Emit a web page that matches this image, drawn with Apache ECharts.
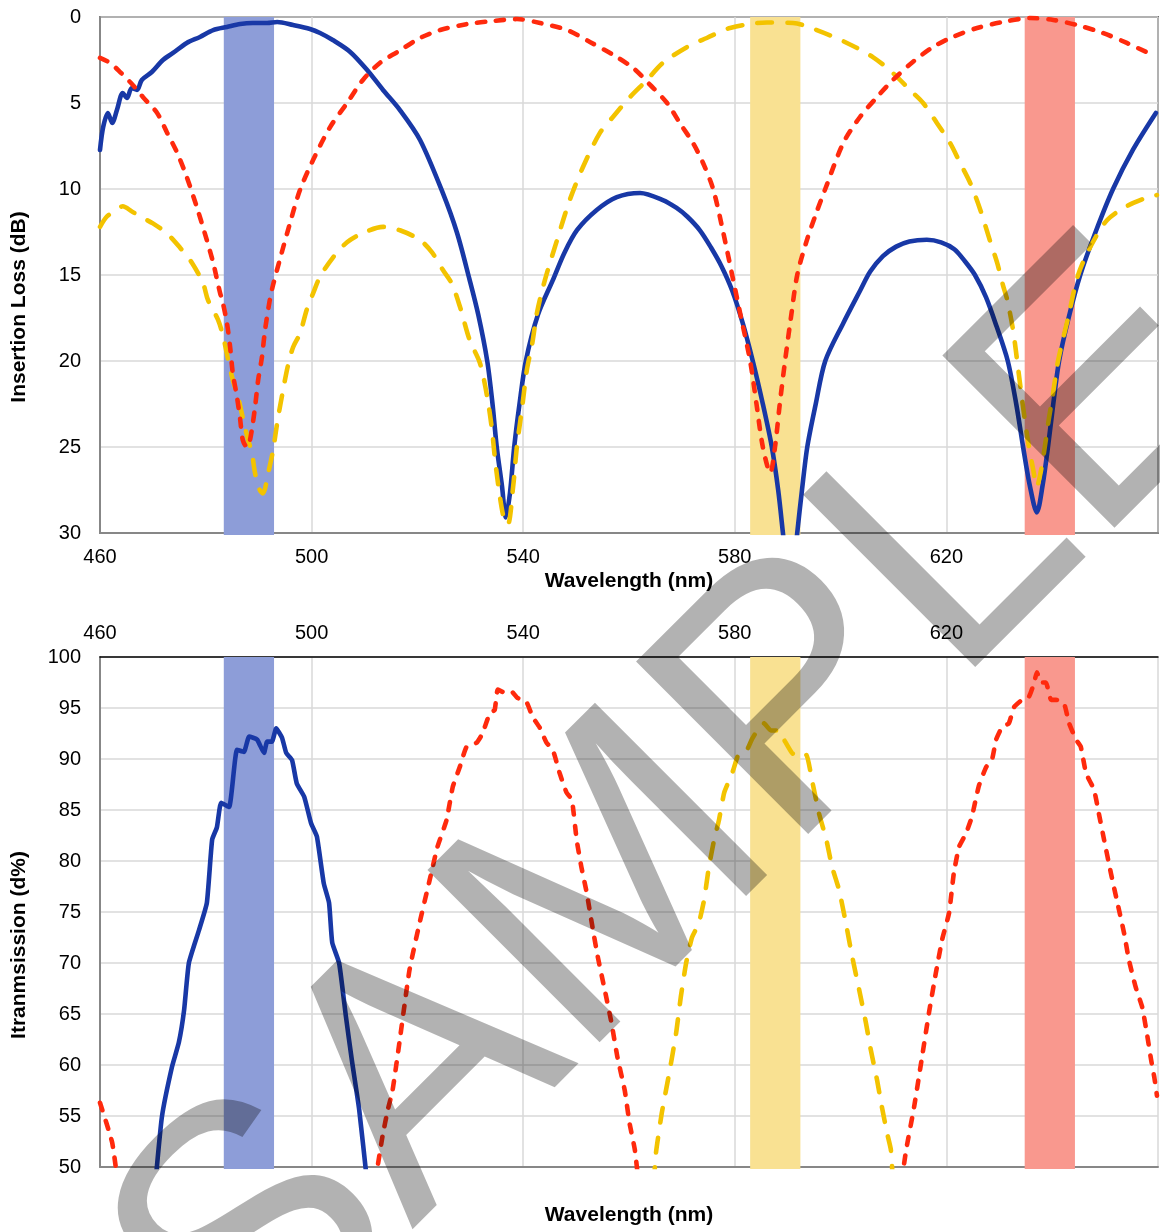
<!DOCTYPE html>
<html><head><meta charset="utf-8">
<script src="https://cdn.jsdelivr.net/npm/echarts@6/dist/echarts.min.js"></script>
<style>html,body{margin:0;padding:0;background:#fff}#c{width:1160px;height:1232px}</style>
</head><body><div id="c"></div>
<script>
// ---------- DATA ----------
const xMin = 460, xMax = 660, xStep = 40;
const topYMin = 0, topYMax = 30, topYStep = 5;
const botYMin = 50, botYMax = 100, botYStep = 5;

// shaded passbands [start nm, end nm]
const bandStart = [483.4, 582.9, 634.8];
const bandEnd   = [492.9, 592.4, 644.3];

// Top panel: insertion loss (dB)
const topBlueX = [460.0,460.6,461.5,462.3,463.2,464.3,465.1,466.0,467.0,467.9,469.8,471.9,473.8,476.4,478.9,481.4,484.0,486.5,488.9,491.6,493.5,496.5,499.7,501.6,504.0,507.3,510.5,513.5,516.7,520.5,524.8,527.5,529.8,531.5,533.2,534.2,535.0,536.0,536.7,537.5,538.3,539.3,540.5,542.8,545.6,547.8,550.2,553.9,557.7,562.1,566.4,569.0,571.0,573.4,575.5,577.5,579.5,581.5,583.4,585.3,587.0,588.2,589.1,590.5,591.8,592.7,593.7,595.3,597.1,600.5,603.7,605.6,608.0,610.5,613.0,616.3,619.0,621.5,623.5,625.4,627.5,629.5,631.6,633.2,634.5,635.8,637.1,638.2,639.2,640.2,641.3,643.1,645.3,648.2,651.5,655.3,659.6];
const topBlueY = [7.73,6.40,5.58,6.16,5.41,4.42,4.71,4.13,4.24,3.66,3.20,2.50,2.09,1.51,1.16,0.76,0.58,0.41,0.35,0.35,0.29,0.47,0.70,0.93,1.34,2.03,3.08,4.24,5.41,7.15,10.23,12.56,15.2,17.3,20.0,22.5,25.0,27.3,29.1,27.67,25.0,22.5,20.0,17.3,15.3,13.7,12.38,11.22,10.47,10.23,10.64,11.1,11.6,12.4,13.4,14.5,15.9,17.8,20.0,22.5,25.0,27.5,30.0,34.0,30.0,27.5,25.0,22.5,20.0,17.8,15.9,14.8,13.9,13.35,13.05,12.95,13.1,13.5,14.2,15.0,16.3,18.0,20.0,22.5,25.0,27.3,28.8,27.2,25.0,22.5,20.0,17.5,15.0,12.5,10.0,7.7,5.58];

const topRedX = [460.0,461.9,463.8,466.2,468.1,470.8,472.7,474.6,476.4,478.3,479.8,481.4,482.7,483.1,484.0,484.6,485.1,485.9,486.5,487.0,487.8,488.2,488.7,489.3,489.9,490.6,491.2,492.1,492.7,494.0,495.9,497.8,500.3,503.5,506.7,509.7,512.9,516.4,520.5,524.3,529.4,534.3,538.8,543.2,548.3,552.6,557.0,560.8,564.0,567.2,569.6,572.1,574.0,575.9,577.8,579.5,581.2,582.9,584.1,585.3,586.7,587.6,588.5,589.5,590.6,591.8,593.6,595.4,597.1,600.5,603.7,606.9,609.9,613.7,617.5,621.2,625.8,630.7,635.8,640.2,644.7,649.6,654.1,658.9];
const topRedY = [2.38,2.67,3.20,3.95,4.65,5.58,6.74,7.90,9.30,11.05,12.56,14.30,16.05,16.45,17.80,19.20,20.70,22.10,23.40,24.60,25.00,24.80,24.00,22.70,21.10,19.80,18.20,16.45,15.60,14.10,12.00,10.06,8.30,6.40,5.00,3.66,2.67,2.00,1.22,0.76,0.41,0.23,0.12,0.35,0.76,1.45,2.20,2.97,3.95,5.00,6.16,7.33,8.49,10.0,12.5,15.0,17.5,20.0,22.5,25.0,26.5,25.0,22.5,20.0,17.5,15.0,13.0,11.4,10.0,7.33,5.80,4.65,3.66,2.60,1.74,1.16,0.64,0.29,0.06,0.17,0.47,0.93,1.51,2.20];

const topYellowX = [460.0,461.3,462.8,464.3,466.0,467.6,470.0,472.7,475.1,477.4,479.5,480.4,482.3,483.3,484.2,485.1,486.1,487.0,488.0,488.7,489.3,490.2,490.8,491.8,492.7,493.6,494.6,495.5,496.5,497.8,499.1,500.3,501.6,504.0,506.7,509.7,513.5,516.7,520.5,522.8,524.8,526.5,528.1,529.9,531.8,533.2,534.1,534.7,535.6,536.4,537.1,538.1,538.8,539.8,540.7,541.7,542.6,544.1,546.4,548.8,551.3,554.5,557.0,560.2,563.4,566.4,571.0,574.7,579.1,586.1,591.0,595.5,601.2,606.1,609.9,613.1,615.6,618.2,620.7,622.6,624.5,626.4,628.2,629.6,630.7,631.5,632.6,633.5,634.5,635.4,636.4,637.1,637.8,638.6,639.3,640.1,641.1,643.0,644.9,647.5,650.4,654.1,657.9,659.8];
const topYellowY = [12.2,11.6,11.3,11.0,11.3,11.6,12.0,12.6,13.4,14.3,15.5,16.45,17.6,18.6,19.9,21.1,22.1,23.3,24.6,25.3,26.5,27.5,27.7,26.5,25.2,23.4,21.7,20.3,19.2,18.4,17.0,16.05,15.1,14.0,13.1,12.56,12.2,12.4,12.97,13.7,14.7,15.5,16.9,18.8,20.1,22.1,24.0,25.8,27.9,29.2,29.5,27.3,25.0,22.7,20.5,19.0,17.2,15.3,12.97,10.64,8.72,6.74,5.8,4.65,3.66,2.67,1.74,1.22,0.64,0.32,0.35,0.76,1.51,2.33,3.26,4.24,5.0,6.16,7.33,8.49,9.65,11.2,12.97,14.3,15.6,16.45,18.2,20.3,22.7,24.6,26.3,27.3,26.5,25.0,23.5,22.0,20.0,17.5,15.0,13.2,11.8,11.0,10.5,10.35];

// Bottom panel: transmission (%), null = gap below the axis
const botBlueX = [470.4,471.7,473.6,474.9,475.9,476.8,478.7,480.2,481.2,482.1,482.9,484.4,485.9,487.2,488.2,489.7,491.0,491.6,492.5,493.3,494.4,495.2,496.3,497.2,498.6,499.9,501.0,502.3,503.3,503.9,505.2,506.5,507.6,509.0,510.5];
const botBlueY = [48.0,54.9,59.8,62.2,65.4,70.0,73.2,75.9,82.1,83.3,85.7,85.3,90.9,90.7,92.2,91.9,90.6,91.7,91.7,93.0,92.1,90.6,89.9,87.6,86.3,83.7,82.4,77.8,75.9,72.0,70.0,64.7,60.5,55.6,48.5];

const botRedX = [460.0,462.3,463.6,487.0,512.0,513.4,514.4,515.3,516.6,518.5,520.4,522.3,523.8,525.5,526.7,528.0,529.3,531.2,532.3,533.7,534.6,535.2,536.5,537.8,538.9,540.6,541.8,543.1,544.4,545.6,546.9,548.2,549.2,550.1,551.0,552.0,553.1,554.1,555.4,556.7,557.8,559.2,560.1,561.1,561.8,587.0,611.5,612.4,613.9,615.4,616.7,618.0,619.2,620.5,621.4,622.4,623.7,624.8,626.1,627.5,628.6,629.4,630.5,631.8,632.8,634.3,635.6,636.6,637.1,637.9,638.8,639.8,640.7,642.2,643.2,644.5,645.4,646.4,647.9,648.8,649.8,651.1,652.2,653.6,654.5,655.8,657.0,657.9,658.7,659.3,659.8];
const botRedY = [56.3,52.4,47.5,null,48.5,53.0,55.6,57.5,62.2,69.3,73.9,78.1,81.4,84.0,87.3,89.2,91.2,91.6,92.5,94.5,94.8,96.8,96.5,96.6,96.0,95.6,94.1,93.1,91.6,90.9,88.6,86.7,86.0,82.1,79.4,76.9,73.5,70.6,67.4,64.1,60.8,57.5,54.3,51.7,48.5,null,48.5,51.7,55.9,60.8,65.1,69.0,72.3,74.9,78.8,81.4,82.7,84.3,87.3,89.2,89.9,91.9,93.1,93.5,95.1,95.8,96.1,97.5,98.5,97.5,97.5,95.8,95.8,95.5,93.5,91.9,91.2,88.6,87.0,84.7,82.1,78.8,76.2,72.9,70.3,67.6,65.7,63.1,60.5,58.8,57.0];

const botYellowX = [564.7,565.1,566.2,567.6,568.9,569.8,570.8,571.9,573.2,574.2,575.1,576.1,577.0,578.0,579.5,580.8,582.3,583.2,584.6,585.5,586.8,588.3,589.3,590.8,592.1,593.5,594.6,595.9,597.3,598.4,599.7,601.0,602.2,603.5,604.8,605.7,606.9,607.8,608.8,609.5,609.9];
const botYellowY = [48.5,51.4,55.3,59.2,63.1,66.7,70.0,72.5,73.9,76.2,79.4,82.1,84.0,86.7,88.6,90.6,90.9,91.9,93.1,93.5,92.8,92.8,91.9,90.6,90.2,90.4,87.9,84.7,82.1,79.4,77.2,73.9,70.6,67.4,64.1,61.5,58.5,55.9,53.3,51.7,48.5];

// ---------- STYLE ----------
const FONT = '"Liberation Sans", Arial, sans-serif';
const C_BLUE = '#1838a6', C_RED = '#ff2a0d', C_YEL = '#f3c300';
const bandColors = ['#8d9dd8', '#f9e192', '#f9988e'];

function zip(xs, ys) { return xs.map((x, i) => [x, ys[i] == null ? '-' : ys[i]]); }
const bandData = bandStart.map((s, i) => [s, bandEnd[i], i]);

function bandSeries(xi, yi, yRef) {
  return {
    type: 'custom', xAxisIndex: xi, yAxisIndex: yi, z: 1, silent: true,
    encode: { x: [0, 1] },
    data: bandData,
    renderItem: function (params, api) {
      const a = api.coord([api.value(0), yRef]);
      const b = api.coord([api.value(1), yRef]);
      const cs = params.coordSys;
      return { type: 'rect', shape: { x: a[0], y: cs.y, width: b[0] - a[0], height: cs.height + 2 },
               style: { fill: bandColors[api.value(2)] } };
    }
  };
}
function lineSeries(xi, yi, data, color, dash, z, smooth) {
  return {
    type: 'line', xAxisIndex: xi, yAxisIndex: yi, data: data, symbol: 'none', z: z,
    smooth: smooth, clip: true, connectNulls: false, silent: true,
    lineStyle: { color: color, width: 4.6, type: dash, cap: 'round', join: 'round' }
  };
}
const labelStyle = { fontSize: 20, color: '#000', fontFamily: FONT };
const nameStyle = { fontSize: 21, fontWeight: 'bold', color: '#000', fontFamily: FONT };
const gridLine = { show: true, lineStyle: { color: '#d9d9d9', width: 1.5 } };
const greyAxis = { show: true, onZero: false, lineStyle: { color: '#878787', width: 2 } };

const chart = echarts.init(document.getElementById('c'), null, { renderer: 'canvas' });
chart.setOption({
  animation: false,
  backgroundColor: '#fff',
  grid: [
    { left: 100, right: 2, top: 17, height: 516, show: true, borderColor: '#000', borderWidth: 1.5, backgroundColor: 'transparent' },
    { left: 100, right: 2, top: 657, height: 510 }
  ],
  xAxis: [
    { type: 'value', gridIndex: 0, min: xMin, max: xMax, interval: xStep, position: 'bottom',
      axisLine: greyAxis, axisTick: { show: false },
      axisLabel: Object.assign({ margin: 14, showMaxLabel: false }, labelStyle),
      splitLine: gridLine,
      name: 'Wavelength (nm)', nameLocation: 'middle', nameGap: 38, nameTextStyle: nameStyle },
    { type: 'value', gridIndex: 1, min: xMin, max: xMax, interval: xStep, position: 'top',
      axisLine: { show: true, onZero: false, lineStyle: { color: '#000', width: 1.5 } }, axisTick: { show: false },
      axisLabel: Object.assign({ margin: 14, showMaxLabel: false }, labelStyle),
      splitLine: gridLine },
    { type: 'value', gridIndex: 1, min: xMin, max: xMax, interval: xStep, position: 'bottom',
      axisLine: greyAxis, axisTick: { show: false }, axisLabel: { show: false }, splitLine: { show: false },
      name: 'Wavelength (nm)', nameLocation: 'middle', nameGap: 38, nameTextStyle: nameStyle }
  ],
  yAxis: [
    { type: 'value', gridIndex: 0, min: topYMin, max: topYMax, interval: topYStep, inverse: true,
      axisLine: greyAxis, axisTick: { show: false },
      axisLabel: Object.assign({ margin: 19 }, labelStyle), splitLine: gridLine,
      name: 'Insertion Loss (dB)', nameLocation: 'middle', nameGap: 70,
      nameTextStyle: Object.assign({ padding: [0, 64, 0, 0] }, nameStyle) },
    { type: 'value', gridIndex: 1, min: botYMin, max: botYMax, interval: botYStep,
      axisLine: greyAxis, axisTick: { show: false },
      axisLabel: Object.assign({ margin: 19 }, labelStyle), splitLine: gridLine,
      name: 'Itranmsission (d%)', nameLocation: 'middle', nameGap: 70,
      nameTextStyle: Object.assign({ padding: [0, 66, 0, 0] }, nameStyle) }
  ],
  series: [
    bandSeries(0, 0, 15),
    lineSeries(0, 0, zip(topBlueX, topBlueY), C_BLUE, 'solid', 3, 0.3),
    lineSeries(0, 0, zip(topYellowX, topYellowY), C_YEL, [15, 15], 4, 0.3),
    lineSeries(0, 0, zip(topRedX, topRedY), C_RED, [8, 11], 5, 0.3),
    bandSeries(1, 1, 75),
    lineSeries(1, 1, zip(botBlueX, botBlueY), C_BLUE, 'solid', 3, 0.15),
    lineSeries(1, 1, zip(botRedX, botRedY), C_RED, [8, 11], 4, 0.15),
    lineSeries(1, 1, zip(botYellowX, botYellowY), C_YEL, [15, 15], 5, 0.15)
  ],
  graphic: [
    { type: 'text', x: 684, y: 820, rotation: 0.785, z: 100, silent: true,
      style: { text: 'SAMPLE', fontSize: 354, fontWeight: 'normal', fontFamily: FONT,
               fill: 'rgba(0,0,0,0.3)', align: 'center', verticalAlign: 'middle' } }
  ]
});
</script>
</body></html>
